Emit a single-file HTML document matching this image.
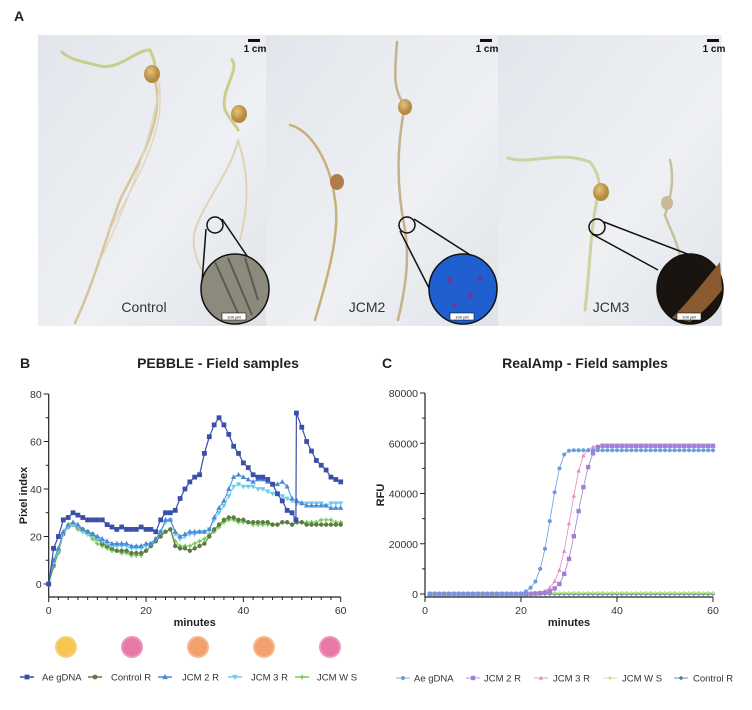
<!DOCTYPE html>
<html><head><meta charset="utf-8"><style>
body{margin:0;background:#fff;width:752px;height:710px;overflow:hidden;font-family:"Liberation Sans",Arial,sans-serif}
svg{display:block}
text{font-family:"Liberation Sans",Arial,sans-serif}
</style></head><body>
<svg id="fig" width="752" height="710" viewBox="0 0 752 710">
<defs>
<linearGradient id="bg1" x1="0" y1="0" x2="1" y2="1"><stop offset="0" stop-color="#e2e6ec"/><stop offset="0.6" stop-color="#eef0f3"/><stop offset="1" stop-color="#dfe3e8"/></linearGradient>
<radialGradient id="seed" cx="0.4" cy="0.35"><stop offset="0" stop-color="#e3c27a"/><stop offset="1" stop-color="#b58a42"/></radialGradient>
</defs>
<text x="14" y="21" font-size="14" font-weight="bold" fill="#222">A</text>
<g>
<rect x="38" y="35" width="228" height="291" fill="url(#bg1)"/>
<rect x="266" y="35" width="232" height="291" fill="url(#bg1)"/>
<rect x="498" y="35" width="224" height="291" fill="url(#bg1)"/>
<g fill="none" stroke-linecap="round">
<path d="M62 52 C70 60 85 62 100 66 C120 70 135 50 150 50 C155 60 155 66 155 70" stroke="#c9cf8a" stroke-width="3"/>
<path d="M155 80 C165 120 140 160 120 200 C105 240 95 280 75 323" stroke="#d8c49a" stroke-width="2.5"/>
<path d="M158 80 C170 130 130 190 110 230 M160 85 C150 140 130 200 100 260" stroke="#e2d6c0" stroke-width="1.5"/>
<path d="M232 60 C240 70 220 90 225 110 C230 120 236 125 238 130" stroke="#c9cf8a" stroke-width="3"/>
<path d="M238 140 C232 170 205 200 195 230 C190 250 200 270 212 285 M238 140 C248 170 250 200 240 240" stroke="#e0d3b5" stroke-width="2"/>
<path d="M290 125 C310 130 330 160 335 200 C340 230 330 270 315 320" stroke="#c7b07a" stroke-width="2.5"/>
<path d="M397 42 C395 70 392 90 405 105 C398 140 395 180 405 230 C410 260 405 290 398 320" stroke="#c8b08c" stroke-width="2.5"/>
<path d="M508 158 C530 165 560 150 590 162 C600 175 600 185 598 195 C590 230 590 270 585 310" stroke="#cdd2a0" stroke-width="3"/>
<path d="M670 160 C675 180 670 200 665 215 C670 230 680 245 682 270" stroke="#c8bea0" stroke-width="2.5"/>
</g>
<ellipse cx="152" cy="74" rx="8" ry="9" fill="url(#seed)"/>
<ellipse cx="239" cy="114" rx="8" ry="9" fill="url(#seed)"/>
<ellipse cx="337" cy="182" rx="7" ry="8" fill="#b07d4a"/>
<ellipse cx="405" cy="107" rx="7" ry="8" fill="url(#seed)"/>
<ellipse cx="601" cy="192" rx="8" ry="9" fill="url(#seed)"/>
<ellipse cx="667" cy="203" rx="6" ry="7" fill="#cbb896"/>
<g stroke="#111" stroke-width="1.5" fill="none">
<ellipse cx="215" cy="225" rx="8" ry="8"/><path d="M206 229 L202 282 M222 219 L262 278"/>
<ellipse cx="407" cy="225" rx="8" ry="8"/><path d="M400 231 L430 290 M414 219 L475 258"/>
<ellipse cx="597" cy="227" rx="8" ry="8"/><path d="M592 234 L658 270 M604 222 L690 255"/>
</g>
<ellipse cx="235" cy="289" rx="34" ry="35" fill="#8c8a7c" stroke="#111" stroke-width="1.5"/>
<path d="M215 262 L240 318 M228 258 L252 315 M245 258 L258 300" stroke="#5c5a50" stroke-width="2"/>
<ellipse cx="463" cy="289" rx="34" ry="35" fill="#1f5fd0" stroke="#111" stroke-width="1.5"/>
<g fill="#6a3a9a"><circle cx="450" cy="280" r="3"/><circle cx="470" cy="295" r="3"/><circle cx="480" cy="278" r="2.5"/><circle cx="455" cy="305" r="2.5"/></g>
<ellipse cx="690" cy="289" rx="33" ry="35" fill="#1a1410" stroke="#111" stroke-width="1.5"/>
<path d="M672 318 C690 300 705 280 720 262 L722 290 C710 305 700 315 690 322 Z" fill="#8a5a30"/>
<g fill="#fff" stroke="#111" stroke-width="0.6"><rect x="222" y="313" width="24" height="7"/><rect x="450" y="313" width="24" height="7"/><rect x="677" y="313" width="24" height="7"/></g>
<g font-size="4" text-anchor="middle" fill="#111"><text x="234" y="318.5">100 µM</text><text x="462" y="318.5">100 µM</text><text x="689" y="318.5">100 µM</text></g>
<g fill="#111"><rect x="248" y="39" width="12" height="3"/><rect x="480" y="39" width="12" height="3"/><rect x="707" y="39" width="12" height="3"/></g>
<g font-size="10" font-weight="bold" fill="#111" text-anchor="middle"><text x="255" y="52">1 cm</text><text x="487" y="52">1 cm</text><text x="714" y="52">1 cm</text></g>
<g font-size="14" fill="#333" text-anchor="middle"><text x="144" y="312">Control</text><text x="367" y="312">JCM2</text><text x="611" y="312">JCM3</text></g>
</g>

<text x="20" y="368" font-size="14" font-weight="bold" fill="#222">B</text>
<text x="218" y="368" font-size="14" font-weight="bold" fill="#222" text-anchor="middle">PEBBLE - Field samples</text>
<text x="382" y="368" font-size="14" font-weight="bold" fill="#222">C</text>
<text x="585" y="368" font-size="14" font-weight="bold" fill="#222" text-anchor="middle">RealAmp - Field samples</text>
<g id="chartB"></g>
<g id="chartC"></g>
</svg>
<script>
// ---- Chart B data ----
const bTicksX=[0,20,40,60];
const bTicksY=[0,20,40,60,80];
const bMinutes=[0,1,2,3,4,5,6,7,8,9,10,11,12,13,14,15,16,17,18,19,20,21,22,23,24,25,26,27,28,29,30,31,32,33,34,35,36,37,38,39,40,41,42,43,44,45,46,47,48,49,50,51,52,53,54,55,56,57,58,59,60];
const aeMinutes=[0,1,2,3,4,5,6,7,8,9,10,11,12,13,14,15,16,17,18,19,20,21,22,23,24,25,26,27,28,29,30,31,32,33,34,35,36,37,38,39,40,41,42,43,44,45,46,47,48,49,50,50.8,50.9,52,53,54,55,56,57,58,59,60];
const aeGDNA=[0,15,20,27,28,30,29,28,27,27,27,27,25,24,23,24,23,23,23,24,23,23,22,27,30,30,31,36,40,43,45,46,55,62,67,70,67,63,58,55,51,49,46,45,45,44,42,38,35,31,30,27,72,66,60,56,52,50,48,45,44,43];
const controlR=[0,8,14,21,24,25,24,23,22,21,19,17,16,15,14,14,14,13,13,13,14,16,18,20,22,23,16,15,15,14,15,16,17,20,23,25,27,28,28,27,27,26,26,26,26,26,25,25,26,26,25,26,26,25,25,25,25,25,25,25,25];
const jcm2R=[0,10,15,22,25,26,25,23,22,21,20,19,18,17,17,17,17,16,16,16,17,17,19,22,27,27,22,20,21,22,22,22,22,23,28,32,35,40,45,46,45,44,43,44,44,43,42,42,43,41,36,35,34,33,33,33,33,33,32,32,32];
const jcm3R=[0,9,14,21,24,25,24,22,21,20,19,18,17,16,16,16,16,15,15,15,16,17,19,22,26,27,21,19,20,21,21,22,22,23,27,30,33,37,41,42,41,41,41,40,40,39,38,38,37,36,35,34,34,34,34,34,34,33,34,34,34];
const jcmWS=[0,7,13,21,24,25,23,22,21,19,17,16,15,14,14,13,13,12,12,12,14,16,18,21,22,23,18,16,16,16,17,18,19,21,22,24,26,27,27,26,26,26,25,25,25,25,25,25,26,26,25,26,26,26,26,26,27,27,27,26,26];
// ---- Chart C data ----
const cTicksX=[0,20,40,60];
const cTicksY=[0,20000,40000,60000,80000];
const cMinutes=[1,2,3,4,5,6,7,8,9,10,11,12,13,14,15,16,17,18,19,20,21,22,23,24,25,26,27,28,29,30,31,32,33,34,35,36,37,38,39,40,41,42,43,44,45,46,47,48,49,50,51,52,53,54,55,56,57,58,59,60];
const cAe=[0,0,0,0,0,0,0,0,0,0,0,0,0,0,0,0,0,0,0,200,1000,2500,5000,10000,18000,29000,40500,50000,55500,57000,57200,57200,57200,57200,57200,57200,57200,57200,57200,57200,57200,57200,57200,57200,57200,57200,57200,57200,57200,57200,57200,57200,57200,57200,57200,57200,57200,57200,57200,57200];
const cJcm2=[0,0,0,0,0,0,0,0,0,0,0,0,0,0,0,0,0,0,0,0,0,100,200,300,500,1000,2200,4000,8000,14000,23000,33000,42500,50500,56000,58500,59000,59000,59000,59000,59000,59000,59000,59000,59000,59000,59000,59000,59000,59000,59000,59000,59000,59000,59000,59000,59000,59000,59000,59000];
const cJcm3=[0,0,0,0,0,0,0,0,0,0,0,0,0,0,0,0,0,0,0,0,0,200,400,600,1200,2500,5000,9500,17000,28000,39000,49000,55000,57500,58500,58700,58800,58800,58800,58800,58800,58800,58800,58800,58800,58800,58800,58800,58800,58800,58800,58800,58800,58800,58800,58800,58800,58800,58800,58800];
const cWS=[500,500,500,500,500,500,500,500,500,500,500,500,500,500,500,500,500,500,500,500,500,500,500,500,500,500,500,500,500,500,500,500,500,500,500,500,500,500,500,500,500,500,500,500,500,500,500,500,500,500,500,500,500,500,500,500,500,500,500,500];
const cControl=[0,0,0,0,0,0,0,0,0,0,0,0,0,0,0,0,0,0,0,0,0,0,0,0,0,0,0,0,0,0,0,0,0,0,0,0,0,0,0,0,0,0,0,0,0,0,0,0,0,0,0,0,0,0,0,0,0,0,0,0];

const NS='http://www.w3.org/2000/svg';
function mk(tag,attrs,parent){const e=document.createElementNS(NS,tag);for(const k in attrs)e.setAttribute(k,attrs[k]);parent.appendChild(e);return e;}
function marker(g,shape,x,y,s,color){
  let e;
  if(shape==='square')e=mk('rect',{x:x-s,y:y-s,width:2*s,height:2*s,fill:color},g);
  else if(shape==='circle')e=mk('circle',{cx:x,cy:y,r:s,fill:color},g);
  else if(shape==='tri')e=mk('polygon',{points:`${x},${y-s*1.2} ${x-s*1.1},${y+s*0.8} ${x+s*1.1},${y+s*0.8}`,fill:color},g);
  else if(shape==='itri')e=mk('polygon',{points:`${x},${y+s*1.2} ${x-s*1.1},${y-s*0.8} ${x+s*1.1},${y-s*0.8}`,fill:color},g);
  else if(shape==='plus')e=mk('path',{d:`M${x-s} ${y}H${x+s}M${x} ${y-s}V${y+s}`,stroke:color,'stroke-width':1.4},g);
  else if(shape==='diamond')e=mk('polygon',{points:`${x},${y-s} ${x+s},${y} ${x},${y+s} ${x-s},${y}`,fill:color},g);
  return e;
}
function axes(g,X,Y,x0,x1,yb,yt,ticksX,ticksY,minorX,minorY,ylabel,ylx){
  mk('line',{x1:X(x0),y1:yb,x2:X(x0),y2:yt,stroke:'#222','stroke-width':1.2},g);
  mk('line',{x1:X(x0),y1:yb,x2:X(x1),y2:yb,stroke:'#222','stroke-width':1.2},g);
  ticksY.forEach(v=>{mk('line',{x1:X(x0)-5,y1:Y(v),x2:X(x0),y2:Y(v),stroke:'#222'},g);
    const t=mk('text',{x:X(x0)-7,y:Y(v)+4,'font-size':10.5,fill:'#333','text-anchor':'end'},g);t.textContent=v;});
  minorY.forEach(v=>mk('line',{x1:X(x0)-3,y1:Y(v),x2:X(x0),y2:Y(v),stroke:'#222'},g));
  ticksX.forEach(v=>{mk('line',{x1:X(v),y1:yb,x2:X(v),y2:yb+5,stroke:'#222'},g);
    const t=mk('text',{x:X(v),y:yb+17,'font-size':10.5,fill:'#333','text-anchor':'middle'},g);t.textContent=v;});
  minorX.forEach(v=>mk('line',{x1:X(v),y1:yb,x2:X(v),y2:yb+3,stroke:'#222'},g));
  const xl=mk('text',{x:(X(x0)+X(x1))/2,y:yb+29,'font-size':11,'font-weight':'bold',fill:'#222','text-anchor':'middle'},g);xl.textContent='minutes';
  const yc=(yb+yt)/2;
  const yl=mk('text',{x:ylx,y:yc,'font-size':11,'font-weight':'bold',fill:'#222','text-anchor':'middle',transform:`rotate(-90 ${ylx} ${yc})`},g);yl.textContent=ylabel;
}
function series(g,X,Y,xs,ys,color,shape,s,lw,name){
  const sg=mk('g',{},g);
  
  
  const d=xs.map((x,i)=>(i?'L':'M')+X(x).toFixed(1)+' '+Y(ys[i]).toFixed(1)).join('');
  mk('path',{d:d,fill:'none',stroke:color,'stroke-width':lw},sg);
  xs.forEach((x,i)=>marker(sg,shape,X(x),Y(ys[i]),s,color));
}
function legend(g,items,y){
  items.forEach(it=>{
    const lg=mk('g',{},g);
    
    
    mk('line',{x1:it.x,y1:y,x2:it.x+14,y2:y,stroke:it.c,'stroke-width':it.lw},lg);
    marker(lg,it.m,it.x+7,y,it.s,it.c);
    const t=mk('text',{x:it.tx,y:y+3.5,'font-size':9.5,fill:'#333'},lg);t.textContent=it.n;
  });
}
// Chart B
const gB=document.getElementById('chartB');
const XB=v=>48.7+v*(292/60), YB=v=>584-v*2.375;
const minB=[];for(let i=2;i<60;i+=2)if(i%20)minB.push(i);
axes(gB,XB,YB,0,60,597,394,bTicksX,bTicksY,minB,[10,30,50,70],'Pixel index',27);
series(gB,XB,YB,bMinutes,jcmWS,'#7cc95c','plus',2.2,1,'series-jcm-w-s');
series(gB,XB,YB,bMinutes,controlR,'#5e7a45','circle',2.2,1,'series-control-r');
series(gB,XB,YB,bMinutes,jcm3R,'#6dcdf0','itri',2.4,1,'series-jcm-3-r');
series(gB,XB,YB,bMinutes,jcm2R,'#4a8ad6','tri',2.4,1,'series-jcm-2-r');
series(gB,XB,YB,aeMinutes,aeGDNA,'#3a4fa8','square',2.4,1.2,'series-ae-gdna');
const dots=[['#f6c650','#f3d27a'],['#e878a6','#ee96ba'],['#f2a06c','#f5b88c'],['#f2a06c','#f5b88c'],['#e878a6','#ee96ba']];
[66,132,198,264,330].forEach((x,i)=>{const c=mk('circle',{cx:x,cy:647,r:10,fill:dots[i][0],stroke:dots[i][1],'stroke-width':2},gB);
  
  });
legend(gB,[{x:20,tx:42,n:'Ae gDNA',c:'#3a4fa8',m:'square',s:2.4,lw:1.5},{x:88,tx:111,n:'Control R',c:'#5e7a45',m:'circle',s:2.4,lw:1.5},{x:158,tx:182,n:'JCM 2 R',c:'#4a8ad6',m:'tri',s:2.6,lw:1.5},{x:228,tx:251,n:'JCM 3 R',c:'#6dcdf0',m:'itri',s:2.6,lw:1.5},{x:295,tx:317,n:'JCM W S',c:'#7cc95c',m:'plus',s:2.4,lw:1.5}],677);
// Chart C
const gC=document.getElementById('chartC');
const XC=v=>425+v*4.8, YC=v=>594-v*(201/80000);
axes(gC,XC,YC,0,60,597,393,cTicksX,cTicksY,[],[10000,30000,50000,70000],'RFU',384);
series(gC,XC,YC,cMinutes,cControl,'#2a7fa8','plus',1.8,0.8,'series-control-r');
series(gC,XC,YC,cMinutes,cWS,'#c4e27a','diamond',2,0.8,'series-jcm-w-s');
series(gC,XC,YC,cMinutes,cJcm3,'#e48ac6','tri',2,0.8,'series-jcm-3-r');
series(gC,XC,YC,cMinutes,cJcm2,'#a47ed4','square',2.2,0.8,'series-jcm-2-r');
series(gC,XC,YC,cMinutes,cAe,'#6a9be0','circle',2,0.8,'series-ae-gdna');
legend(gC,[{x:396,tx:414,n:'Ae gDNA',c:'#6a9be0',m:'circle',s:2,lw:0.8},{x:466,tx:484,n:'JCM 2 R',c:'#a47ed4',m:'square',s:2.2,lw:0.8},{x:534,tx:553,n:'JCM 3 R',c:'#e48ac6',m:'tri',s:2,lw:0.8},{x:603,tx:622,n:'JCM W S',c:'#c4e27a',m:'diamond',s:2,lw:0.8},{x:674,tx:693,n:'Control R',c:'#2a7fa8',m:'plus',s:2,lw:0.8}],678);
</script>
</body></html>
